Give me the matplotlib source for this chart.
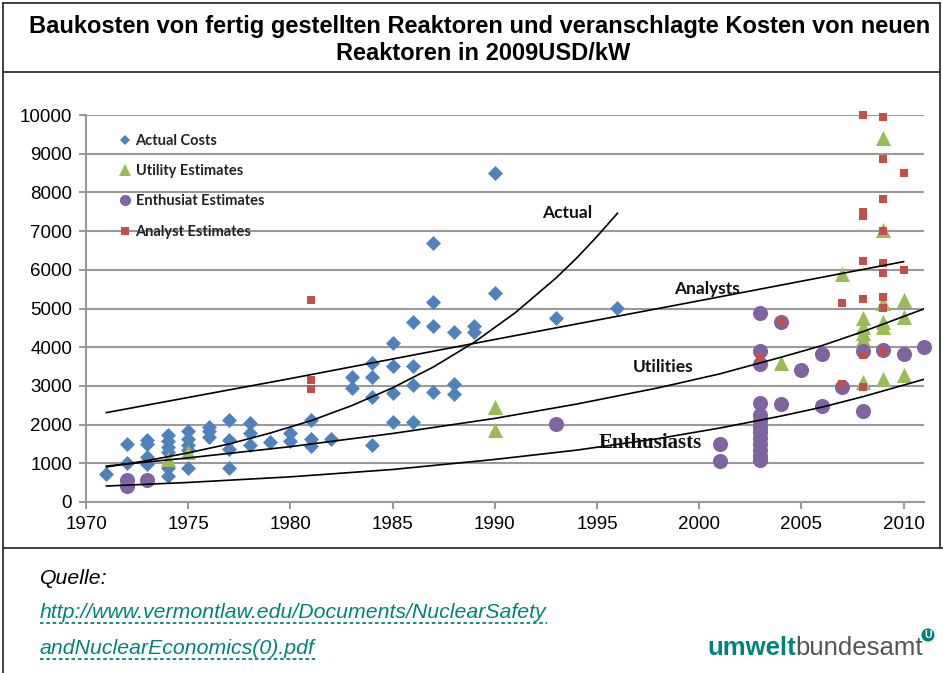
import matplotlib
matplotlib.use("Agg")
import matplotlib.pyplot as plt
from matplotlib.lines import Line2D

# ---- data (USD2009/kW) ----
actual_years = [1971,
                1972, 1972,
                1973, 1973, 1973, 1973,
                1974, 1974, 1974, 1974, 1974, 1974,
                1975, 1975, 1975, 1975, 1975,
                1976, 1976, 1976,
                1977, 1977, 1977, 1977,
                1978, 1978, 1978,
                1979,
                1980, 1980,
                1981, 1981, 1981,
                1982,
                1983, 1983,
                1984, 1984, 1984, 1984,
                1985, 1985, 1985, 1985,
                1986, 1986, 1986, 1986,
                1987, 1987, 1987, 1987,
                1988, 1988, 1988,
                1989, 1989,
                1990, 1990,
                1993,
                1996]
actual_costs = [720,
                1500, 1000,
                1600, 1500, 1170, 980,
                1740, 1580, 1430, 1280, 880, 660,
                1840, 1620, 1480, 1350, 870,
                1950, 1830, 1680,
                2120, 1600, 1380, 870,
                2050, 1780, 1460,
                1560,
                1780, 1580,
                2120, 1640, 1450,
                1640,
                3240, 2940,
                3590, 3240, 2720, 1480,
                4100, 3510, 2820, 2075,
                4660, 3510, 3020, 2075,
                6690, 5180, 4550, 2830,
                4380, 3040, 2780,
                4550, 4380,
                8510, 5390,
                4750,
                5020]

utility_years = [1974, 1975, 1990, 1990, 2004, 2007,
                 2008, 2008, 2008, 2008, 2008,
                 2009, 2009, 2009, 2009, 2009, 2009,
                 2010, 2010, 2010]
utility_costs = [1100, 1280, 2460, 1860, 3580, 5900,
                 4750, 4530, 4360, 4220, 3090,
                 9400, 7030, 5130, 4660, 4530, 3170,
                 5220, 4790, 3280]

enthusiast_years = [1972, 1972, 1973, 1993, 2001, 2001,
                    2003, 2003, 2003, 2003, 2003, 2003, 2003, 2003,
                    2003, 2003, 2003, 2003, 2003,
                    2004, 2004, 2005, 2006, 2006, 2007, 2008, 2008,
                    2009, 2010, 2011]
enthusiast_costs = [560, 410, 580, 2020, 1510, 1070,
                    4880, 3910, 3570, 2560, 2250, 2100, 1950, 1800,
                    1650, 1500, 1350, 1200, 1080,
                    4640, 2530, 3410, 3830, 2480, 2960, 3910, 2360,
                    3930, 3830, 4000]

analyst_years = [1981, 1981, 1981, 2003, 2004, 2007, 2007,
                 2008, 2008, 2008, 2008, 2008, 2008, 2008,
                 2009, 2009, 2009, 2009, 2009, 2009, 2009, 2009, 2009,
                 2010, 2010]
analyst_costs = [5220, 3150, 2910, 3710, 4640, 5150, 3050,
                 10000, 7500, 7400, 6230, 5250, 3810, 2960,
                 9940, 8860, 7830, 6990, 6170, 5930, 5290, 5010, 3870,
                 8490, 6000]

# trend lines, values
trend_actual_years = [1971, 1973, 1975, 1977, 1979, 1981, 1983, 1985, 1987,
                      1989, 1991, 1993, 1994, 1995, 1996]
trend_actual = [905, 1070, 1270, 1500, 1780, 2100, 2490, 2950, 3490,
                4130, 4890, 5790, 6300, 6860, 7460]

trend_analyst_years = [1971, 1980, 1990, 2000, 2010]
trend_analyst = [2310, 3190, 4200, 5200, 6210]

trend_utility_years = [1971, 1975, 1980, 1985, 1990, 1994, 1998, 2001, 2004,
                       2006, 2008, 2011]
trend_utility = [930, 1140, 1430, 1770, 2160, 2530, 2950, 3310, 3740,
                 4040, 4400, 4990]

trend_enth_years = [1971, 1975, 1980, 1985, 1990, 1994, 1998, 2001, 2004,
                    2006, 2008, 2011]
trend_enth = [413, 505, 650, 840, 1100, 1340, 1640, 1910, 2220,
              2450, 2720, 3170]

years_ticks = [1970, 1975, 1980, 1985, 1990, 1995, 2000, 2005, 2010]

BLUE = "#4F81BD"
GREEN = "#9BBB59"
PURPLE = "#8064A2"
RED = "#C0504D"
TEAL = "#00837C"
GRID = "#9a9a9a"


def main():
    fig = plt.figure(figsize=(9.43, 6.73), dpi=100)
    ax = fig.add_axes([86 / 943, 171 / 673, 838 / 943, 387 / 673])

    ax.scatter(actual_years, actual_costs, marker="D", s=58, color=BLUE,
               linewidths=0, zorder=3, clip_on=False)
    ax.scatter(utility_years, utility_costs, marker="^", s=118, color=GREEN,
               linewidths=0, zorder=4, clip_on=False)
    ax.scatter(enthusiast_years, enthusiast_costs, marker="o", s=118, color=PURPLE,
               linewidths=0, zorder=5, clip_on=False)
    ax.scatter(analyst_years, analyst_costs, marker="s", s=32, color=RED,
               linewidths=0, zorder=6, clip_on=False)

    for xs, ys in [(trend_actual_years, trend_actual),
                   (trend_analyst_years, trend_analyst),
                   (trend_utility_years, trend_utility),
                   (trend_enth_years, trend_enth)]:
        ax.plot(xs, ys, color="black", lw=1.2, zorder=7)

    lab = dict(fontfamily="Lato", fontweight="bold", fontsize=12.5, color="#111111",
               ha="center", va="center", zorder=8)
    ax.text(1993.55, 7470, "Actual", **lab)
    ax.text(2000.4, 5500, "Analysts", **lab)
    ax.text(1998.25, 3490, "Utilities", **lab)
    ax.text(1997.6, 1525, "Enthusiasts", fontfamily="Liberation Serif",
            fontweight="bold", fontsize=15, color="#111111", ha="center",
            va="center", zorder=8)

    ax.set_xlim(1970, 2011)
    ax.set_ylim(0, 10000)
    ax.set_xticks(years_ticks)
    ax.set_yticks(range(0, 10001, 1000))
    ax.yaxis.grid(True, color=GRID, lw=1.5, zorder=0)
    ax.set_axisbelow(True)
    for side in ["top", "right"]:
        ax.spines[side].set_visible(False)
    for side in ["left", "bottom"]:
        ax.spines[side].set_color(GRID)
        ax.spines[side].set_linewidth(1.5)
    ax.tick_params(axis="both", colors=GRID, labelcolor="black", width=1.5,
                   length=5, labelsize=13.5)
    ax.tick_params(axis="y", pad=5)
    ax.tick_params(axis="x", pad=5)
    for t in ax.get_xticklabels() + ax.get_yticklabels():
        t.set_fontfamily("Liberation Sans")

    handles = [
        Line2D([], [], ls="", marker="D", ms=5.5, color=BLUE, mew=0),
        Line2D([], [], ls="", marker="^", ms=8, color=GREEN, mew=0),
        Line2D([], [], ls="", marker="o", ms=8, color=PURPLE, mew=0),
        Line2D([], [], ls="", marker="s", ms=5.5, color=RED, mew=0),
    ]
    labels = ["Actual Costs", "Utility Estimates", "Enthusiat Estimates", "Analyst Estimates"]
    leg = ax.legend(handles, labels, loc="upper left", bbox_to_anchor=(0.033, 0.967),
                    frameon=False, handlelength=0.8, handletextpad=0.3,
                    labelspacing=1.12, borderaxespad=0,
                    prop={"family": "Lato", "weight": "bold", "size": 10.5})
    for t in leg.get_texts():
        t.set_color("#222222")

    # title
    tfont = dict(fontfamily="Liberation Sans", fontweight="bold", fontsize=17,
                 ha="center", va="center", color="black")
    fig.text(480 / 943, 1 - 27 / 673,
             "Baukosten von fertig gestellten Reaktoren und veranschlagte Kosten von neuen",
             **tfont)
    fig.text(483 / 943, 1 - 54 / 673, "Reaktoren in 2009USD/kW", **tfont)

    # frame lines
    H = 673
    W = 943
    fr = dict(color="#333333", lw=1.3, transform=fig.transFigure)
    fig.add_artist(Line2D([3 / W, 3 / W], [0, 1 - 3 / H], **fr))
    fig.add_artist(Line2D([940 / W, 940 / W], [1 - 548 / H, 1 - 3 / H], **fr))
    fig.add_artist(Line2D([3 / W, 940 / W], [1 - 3 / H, 1 - 3 / H], **fr))
    fig.add_artist(Line2D([3 / W, 940 / W], [1 - 72 / H, 1 - 72 / H], **fr))
    fig.add_artist(Line2D([3 / W, 1], [1 - 548 / H, 1 - 548 / H], **fr))

    # footer
    foot = dict(fontfamily="Liberation Sans", fontstyle="italic", fontsize=15.3,
                ha="left", va="center")
    fig.text(40 / W, 1 - 578 / H, "Quelle:", color="black", **foot)
    link1 = fig.text(40 / W, 1 - 612 / H,
                     "http://www.vermontlaw.edu/Documents/NuclearSafety",
                     color=TEAL, **foot)
    link2 = fig.text(40 / W, 1 - 648 / H, "andNuclearEconomics(0).pdf",
                     color=TEAL, **foot)

    fig.canvas.draw()
    r = fig.canvas.get_renderer()
    for t in [link1, link2]:
        bb = t.get_window_extent(r)
        yy = (bb.y0 - 1) / H
        fig.add_artist(Line2D([bb.x0 / W, bb.x1 / W], [yy, yy], color=TEAL, lw=1.3,
                              ls=(0, (2, 1.5)), transform=fig.transFigure))

    # logo
    t1 = fig.text(707 / W, 1 - 648 / H, "umwelt", fontfamily="Liberation Sans",
                  fontweight="bold", fontsize=18.5, color=TEAL, ha="left", va="center")
    bb = t1.get_window_extent(r)
    t2 = fig.text(bb.x1 / W, 1 - 648 / H, "bundesamt", fontfamily="Liberation Sans",
                  fontsize=18.5, color="#555555", ha="left", va="center")
    bb2 = t2.get_window_extent(r)
    fig.text(bb2.x1 / W + 0.005, 1 - 635 / H, "U", fontfamily="Liberation Sans",
             fontweight="bold", fontsize=7.5, color="white", ha="center", va="center",
             bbox=dict(boxstyle="circle,pad=0.15", fc=TEAL, ec="none"))

    fig.savefig("out.png", dpi=100)


if __name__ == "__main__":
    main()
